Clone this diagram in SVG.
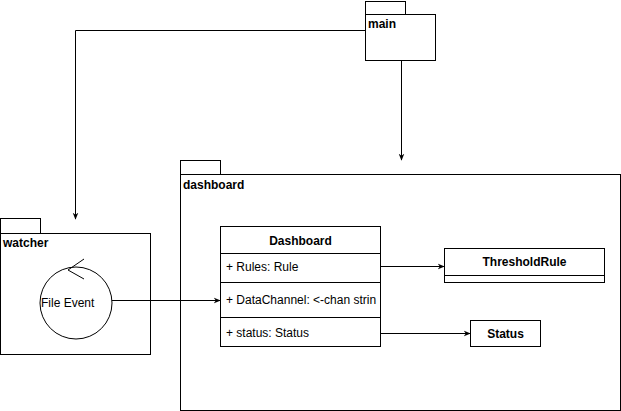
<svg xmlns="http://www.w3.org/2000/svg" width="621" height="411" viewBox="0 0 621 411">
<defs>
<style>
.s{fill:#fff;stroke:#000;stroke-width:1}
.e{fill:none;stroke:#000;stroke-width:1}
.t{font-family:"Liberation Sans",Arial,sans-serif;font-size:12px;fill:#000}
.b{font-weight:bold}
</style>
<marker id="a" viewBox="0 0 10 10" refX="9" refY="5" markerWidth="7" markerHeight="7" orient="auto" markerUnits="userSpaceOnUse">
<path d="M0,1 L10,5 L0,9 L3,5 Z" fill="#000"/>
</marker>
</defs>
<rect width="621" height="411" fill="#fff"/>
<g id="main">
<rect class="s" x="365.5" y="1.5" width="40" height="13"/>
<rect class="s" x="365.5" y="14.5" width="70" height="46"/>
<text class="t b" x="368" y="28">main</text>
</g>
<g id="dashboard">
<rect class="s" x="180.5" y="160.5" width="40" height="14"/>
<rect class="s" x="180.5" y="174.5" width="440" height="236"/>
<text class="t b" x="183" y="189">dashboard</text>
</g>
<g id="watcher">
<rect class="s" x="0.5" y="218.5" width="40" height="15"/>
<rect class="s" x="0.5" y="233.5" width="150" height="121"/>
<text class="t b" x="3" y="247">watcher</text>
</g>
<g id="file-event">
<circle class="s" cx="76" cy="303" r="36"/>
<path class="e" d="M84,259 L68,270 L84,279"/>
<text class="t" x="41" y="307">File Event</text>
</g>
<g id="Dashboard-class">
<rect class="s" x="220.5" y="226.5" width="160" height="120"/>
<line class="e" x1="220.5" y1="253.5" x2="380.5" y2="253.5"/>
<line class="e" x1="220.5" y1="282.5" x2="380.5" y2="282.5"/>
<line class="e" x1="220.5" y1="317.5" x2="380.5" y2="317.5"/>
<text class="t b" x="300.5" y="245" text-anchor="middle">Dashboard</text>
<text class="t" x="226" y="271">+ Rules: Rule</text>
<text class="t" x="226" y="304">+ DataChannel: &lt;-chan strin</text>
<text class="t" x="226" y="337">+ status: Status</text>
</g>
<g id="ThresholdRule">
<rect class="s" x="444.5" y="248.5" width="160" height="34"/>
<line class="e" x1="444.5" y1="275.5" x2="604.5" y2="275.5"/>
<text class="t b" x="524.5" y="266" text-anchor="middle">ThresholdRule</text>
</g>
<g id="Status">
<rect class="s" x="470.5" y="320.5" width="70" height="26"/>
<text class="t b" x="505.5" y="338" text-anchor="middle">Status</text>
</g>
<g id="connectors">
<path class="e" d="M365,30.5 H75.5 V219" marker-end="url(#a)"/>
<path class="e" d="M401.5,60 V160" marker-end="url(#a)"/>
<path class="e" d="M112,300.5 H220" marker-end="url(#a)"/>
<path class="e" d="M380,266.5 H444" marker-end="url(#a)"/>
<path class="e" d="M380,333.5 H470" marker-end="url(#a)"/>
</g>
</svg>
